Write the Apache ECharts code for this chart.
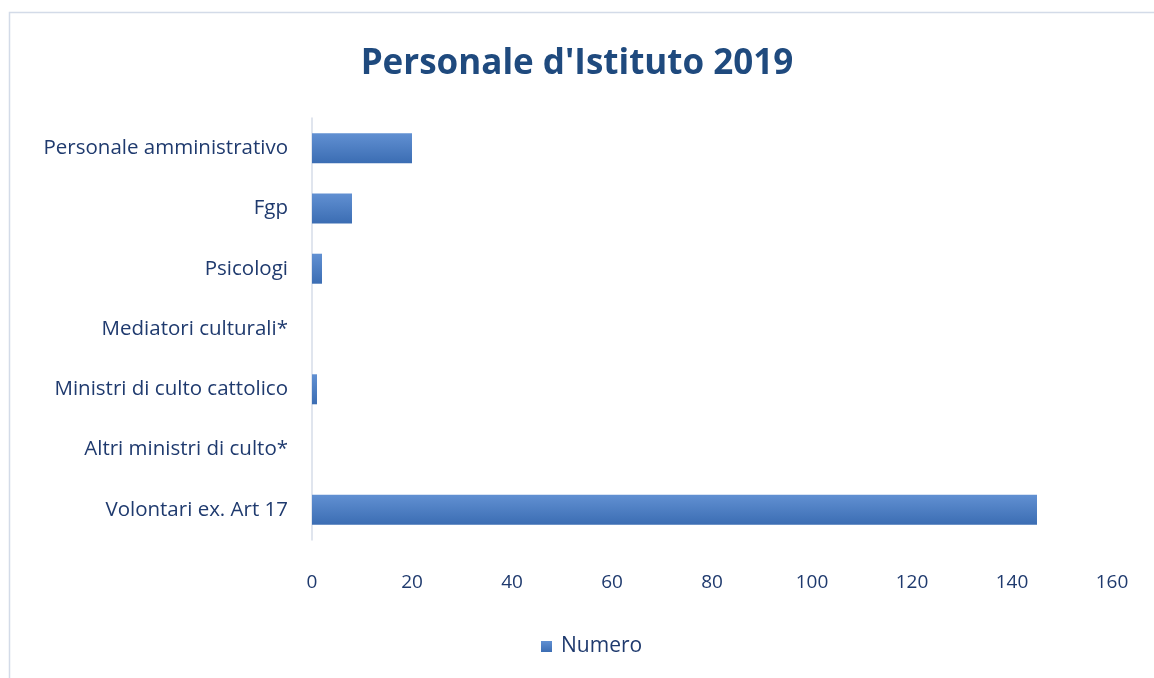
<!DOCTYPE html>
<html>
<head>
<meta charset="utf-8">
<script src="https://cdn.jsdelivr.net/npm/echarts@6/dist/echarts.min.js"></script>
<style>
  html, body { margin: 0; padding: 0; background: #fff; }
  #main { width: 1154px; height: 678px; }
</style>
</head>
<body>
<div id="main"></div>
<script>
// categories top to bottom
const categories = [
  'Personale amministrativo',
  'Fgp',
  'Psicologi',
  'Mediatori culturali*',
  'Ministri di culto cattolico',
  'Altri ministri di culto*',
  'Volontari ex. Art 17'
]
const numero = [20, 8, 2, 0, 1, 0, 145]
const xTicks = [0, 160, 20]

const textBlue = '#1f3a6e'
const font = '"Open Sans", "Noto Sans", sans-serif'

const chart = echarts.init(document.getElementById('main'))

chart.setOption({
  animation: false,
  backgroundColor: '#fff',
  graphic: [
    {
      type: 'rect',
      shape: { x: 9.5, y: 12.5, width: 1160, height: 680 },
      style: { fill: 'none', stroke: '#d3dbe8', lineWidth: 1.5 }
    }
  ],
  title: {
    text: "Personale d'Istituto 2019",
    left: 'center',
    top: 42,
    textStyle: {
      color: '#1f4a7e',
      fontFamily: font,
      fontWeight: 'bold',
      fontSize: 35
    }
  },
  legend: {
    bottom: 16,
    left: 536,
    itemWidth: 11,
    itemHeight: 11,
    itemGap: 10,
    icon: 'rect',
    textStyle: { color: textBlue, fontFamily: font, fontSize: 21, padding: [0, 0, 0, 4] },
    data: ['Numero']
  },
  grid: {
    left: 312,
    right: 42,
    top: 118,
    bottom: 138
  },
  xAxis: {
    type: 'value',
    min: xTicks[0],
    max: xTicks[1],
    interval: xTicks[2],
    axisLine: { show: false },
    axisTick: { show: false },
    splitLine: { show: false },
    axisLabel: {
      color: textBlue,
      fontFamily: font,
      fontSize: 19,
      margin: 33
    }
  },
  yAxis: {
    type: 'category',
    inverse: true,
    data: categories,
    axisLine: { lineStyle: { color: '#d6dde8', width: 1.5 } },
    axisTick: { show: false },
    axisLabel: {
      color: textBlue,
      fontFamily: font,
      fontSize: 20.5,
      margin: 24
    }
  },
  series: [
    {
      name: 'Numero',
      type: 'bar',
      data: numero,
      barWidth: 30,
      itemStyle: {
        color: new echarts.graphic.LinearGradient(0, 0, 0, 1, [
          { offset: 0, color: '#6190d2' },
          { offset: 1, color: '#3b6db3' }
        ])
      }
    }
  ]
})
</script>
</body>
</html>
